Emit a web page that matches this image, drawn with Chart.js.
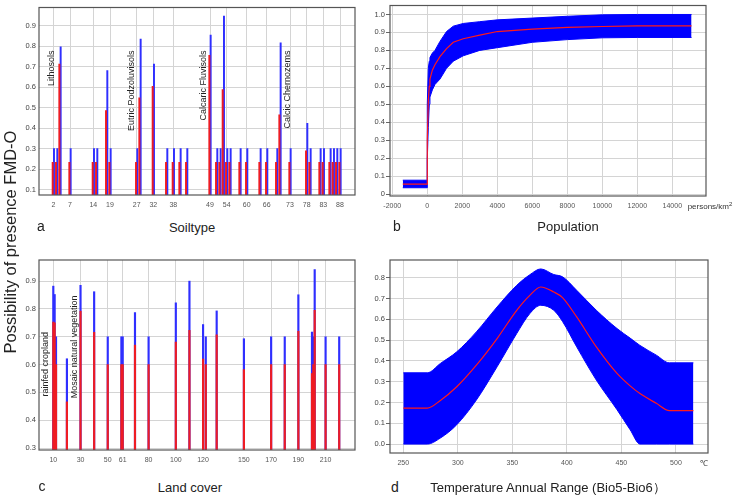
<!DOCTYPE html>
<html>
<head>
<meta charset="utf-8">
<script src="https://cdn.jsdelivr.net/npm/chart.js@4.4.0/dist/chart.umd.min.js"></script>
<style>
  body { margin: 0; background: #fff; width: 736px; height: 498px; position: relative; overflow: hidden;
         font-family: "Liberation Sans", Arial, sans-serif; }
  canvas { position: absolute; }
  .t { position: absolute; color: #222; white-space: nowrap; transform: translate(-50%, -50%); }
</style>
</head>
<body>
<canvas id="soilChart" width="372" height="216" style="left:0;top:0"></canvas>
<canvas id="popChart" width="376" height="216" style="left:360px;top:0"></canvas>
<canvas id="landChart" width="372" height="216" style="left:0;top:250px"></canvas>
<canvas id="tempChart" width="376" height="216" style="left:360px;top:250px"></canvas>

<div class="t" style="left:10px;top:242px;font-size:16.5px;transform:translate(-50%,-50%) rotate(-90deg)">Possibility of presence FMD-O</div>
<div class="t" style="left:41px;top:226px;font-size:14px">a</div>
<div class="t" style="left:192px;top:227px;font-size:13px">Soiltype</div>
<div class="t" style="left:397px;top:226px;font-size:14px">b</div>
<div class="t" style="left:568px;top:226px;font-size:13px">Population</div>
<div class="t" style="left:42px;top:486px;font-size:14px">c</div>
<div class="t" style="left:190px;top:487px;font-size:13px">Land cover</div>
<div class="t" style="left:395px;top:487px;font-size:14px">d</div>
<div class="t" style="left:548px;top:488px;font-size:13px">Temperature Annual Range (Bio5-Bio6）</div>
<div class="t" style="left:710px;top:206px;font-size:8px;color:#333">persons/km<sup style="font-size:6px">2</sup></div>
<div class="t" style="left:704px;top:462px;font-size:8px;color:#333">℃</div>

<script>
// ---- a: soil type ----
const soilCodes = [2, 3, 4, 7, 14, 15, 18, 19, 27, 28, 32, 36, 38, 40, 42, 49, 51, 52, 53, 54, 55, 58, 60, 64, 66, 69, 70, 73, 78, 79, 82, 83, 85, 86, 87, 88];
const soilMean  = [.233, .233, .713, .233, .233, .233, .486, .233, .233, .548, .604, .233, .233, .233, .233, .756, .233, .233, .588, .233, .233, .233, .233, .233, .233, .233, .465, .233, .289, .233, .233, .233, .233, .233, .233, .233];
const soilUpper = [.30, .30, .798, .30, .30, .30, .681, .30, .30, .836, .713, .30, .30, .30, .30, .855, .30, .30, .948, .30, .30, .30, .30, .30, .30, .30, .817, .30, .423, .30, .30, .30, .30, .30, .30, .30];
const soilTicks = [2, 7, 14, 19, 27, 32, 38, 49, 54, 60, 66, 73, 78, 83, 88];
const soilYTicks = [0.1, 0.2, 0.3, 0.4, 0.5, 0.6, 0.7, 0.8, 0.9];

// ---- b: population ----
const popX     = [-1400, 0, 0, 57, 114, 152, 290, 438, 724, 1100, 1486, 2057, 3000, 4000, 6000, 8000, 10000, 12000, 15100];
const popMean  = [.055, .055, .30, .52, .60, .64, .69, .72, .765, .81, .845, .865, .885, .905, .918, .928, .933, .937, .937];
const popUpper = [.077, .077, .50, .70, .74, .76, .785, .80, .85, .905, .935, .95, .96, .97, .98, .99, .998, 1.0, 1.0];
const popLower = [.035, .035, .19, .37, .50, .54, .58, .61, .64, .70, .74, .77, .80, .815, .845, .86, .87, .872, .872];
const popTicks = [-2000, 0, 2000, 4000, 6000, 8000, 10000, 12000, 14000];
const popYTicks = [0, 0.1, 0.2, 0.3, 0.4, 0.5, 0.6, 0.7, 0.8, 0.9, 1.0];

// ---- c: land cover ----
const landCodes = [10, 11, 12, 20, 30, 40, 50, 60, 61, 70, 80, 100, 110, 120, 122, 130, 150, 170, 180, 190, 200, 201, 202, 210, 220];
const landMean  = [.753, .75, .60, .466, .792, .716, .60, .60, .60, .67, .60, .681, .723, .62, .60, .707, .582, .60, .60, .72, .568, .60, .795, .60, .60];
const landUpper = [.882, .852, .70, .621, .885, .862, .70, .70, .70, .787, .70, .822, .90, .744, .70, .793, .693, .70, .70, .851, .717, .70, .942, .70, .70];
const landTicks = [10, 30, 50, 61, 80, 100, 120, 150, 170, 190, 210];
const landYTicks = [0.3, 0.4, 0.5, 0.6, 0.7, 0.8, 0.9];

// ---- d: temperature annual range ----
const tempX     = [250, 272, 284, 299, 317, 336, 354, 366, 376, 388, 396, 409, 427, 446, 458, 467, 482, 494, 516];
const tempMean  = [.173, .173, .21, .276, .38, .508, .644, .716, .756, .732, .705, .612, .468, .34, .28, .243, .196, .161, .161];
const tempUpper = [.343, .343, .388, .444, .54, .66, .764, .815, .843, .816, .805, .74, .644, .556, .51, .475, .428, .391, .391];
const tempLower = [0, 0, .029, .093, .212, .372, .532, .628, .668, .644, .59, .468, .308, .165, .069, 0, 0, 0, 0];
const tempTicks = [250, 300, 350, 400, 450, 500];
const tempYTicks = [0, 0.1, 0.2, 0.3, 0.4, 0.5, 0.6, 0.7, 0.8];

Chart.defaults.font.family = '"Liberation Sans", Arial, sans-serif';
Chart.defaults.animation = false;

const BLUE = '#2f2fff', RED = '#ee1c24';

// frame round the plot area
const framePlugin = {
    id: 'frame',
    afterDraw(chart) {
        const a = chart.chartArea, c = chart.ctx;
        c.save();
        c.strokeStyle = '#555';
        c.lineWidth = 1.2;
        c.strokeRect(a.left, a.top, a.right - a.left, a.bottom - a.top);
        c.restore();
    }
};

// vertical text labels inside the plot
const notePlugin = {
    id: 'notes',
    afterDatasetsDraw(chart, args, opts) {
        const items = opts.items || [];
        const c = chart.ctx;
        c.save();
        c.font = '9px "Liberation Sans", Arial';
        c.fillStyle = '#222';
        c.textAlign = 'right';
        c.textBaseline = 'middle';
        items.forEach(n => {
            const x = chart.scales.x.getPixelForValue(n.x);
            const y = chart.scales.y.getPixelForValue(n.y);
            c.save();
            c.translate(x, y);
            c.rotate(-Math.PI / 2);
            c.fillText(n.text, 0, 0);
            c.restore();
        });
        c.restore();
    }
};
Chart.register(framePlugin, notePlugin);

function scales(p) {
    return {
        x: {
            type: 'linear', min: p.xMin, max: p.xMax, offset: false,
            afterBuildTicks: s => { s.ticks = p.xTicks.map(v => ({ value: v })); },
            afterFit: s => { s.height = p.xh; },
            grid: { color: '#d4d4d4', drawTicks: false, offset: false },
            border: { display: false },
            ticks: { padding: 6, autoSkip: false, maxRotation: 0, color: '#555', font: { size: 7 },
                     callback: v => String(v) }
        },
        y: {
            type: 'linear', min: p.yMin, max: p.yMax,
            afterBuildTicks: s => { s.ticks = p.yTicks.map(v => ({ value: v })); },
            afterFit: s => { s.width = p.yw; },
            grid: { color: '#d4d4d4', drawTicks: p.tick > 0, tickLength: p.tick, tickColor: '#666' },
            border: { display: false },
            ticks: { padding: p.tick > 0 ? 1 : 3, color: '#444', font: { size: 7.5 },
                     callback: p.fmt }
        }
    };
}

const base = {
    responsive: false,
    events: [],
    plugins: { legend: { display: false }, tooltip: { enabled: false } }
};

/* -------- a -------- */
new Chart(document.getElementById('soilChart'), {
    type: 'bar',
    data: {
        datasets: [
            { data: soilCodes.map((c, i) => ({ x: c, y: soilMean[i] })), backgroundColor: RED, barThickness: 1.3 },
            { data: soilCodes.map((c, i) => ({ x: c, y: soilUpper[i] })), backgroundColor: BLUE, barThickness: 1.3 }
        ]
    },
    options: {
        ...base,
        layout: { padding: { top: 4, right: 17, left: 0, bottom: 0 } },
        scales: scales({ xMin: -2.3, xMax: 92.5, xTicks: soilTicks, yMin: 0.073, yMax: 0.99, yTicks: soilYTicks,
                         yw: 39, xh: 21, tick: 0, fmt: v => v.toFixed(1) }),
        plugins: {
            ...base.plugins,
            notes: { items: [
                { text: 'Lithosols', x: 1.5, y: 0.78 },
                { text: 'Eutric Podzoluvisols', x: 25.5, y: 0.78 },
                { text: 'Calcaric Fluvisols', x: 47.2, y: 0.78 },
                { text: 'Calcic Chernozems', x: 72.3, y: 0.78 }
            ] }
        }
    }
});

/* -------- b -------- */
new Chart(document.getElementById('popChart'), {
    type: 'line',
    data: {
        datasets: [
            { data: popX.map((x, i) => ({ x, y: popMean[i] })), borderColor: '#ff1a1a', borderWidth: 1.2, pointRadius: 0, fill: false },
            { data: popX.map((x, i) => ({ x, y: popUpper[i] })), borderColor: '#0000ff', backgroundColor: '#0000ff', borderWidth: 1, pointRadius: 0, fill: '+1' },
            { data: popX.map((x, i) => ({ x, y: popLower[i] })), borderColor: '#0000ff', borderWidth: 1, pointRadius: 0, fill: false }
        ]
    },
    options: {
        ...base,
        layout: { padding: { top: 4, right: 30, left: 0, bottom: 0 } },
        scales: scales({ xMin: -2131, xMax: 15926, xTicks: popTicks, yMin: -0.011, yMax: 1.05, yTicks: popYTicks,
                         yw: 30, xh: 20, tick: 4, fmt: v => v === 0 ? '0' : v.toFixed(1) })
    }
});

/* -------- c -------- */
new Chart(document.getElementById('landChart'), {
    type: 'bar',
    data: {
        datasets: [
            { data: landCodes.map((c, i) => ({ x: c, y: landMean[i] })), backgroundColor: RED, barThickness: 1.5, grouped: false },
            { data: landCodes.map((c, i) => ({ x: c, y: landUpper[i] })), backgroundColor: BLUE, barThickness: 1.5, grouped: false }
        ]
    },
    options: {
        ...base,
        layout: { padding: { top: 10, right: 17, left: 0, bottom: 0 } },
        scales: scales({ xMin: -0.5, xMax: 231.6, xTicks: landTicks, yMin: 0.293, yMax: 0.976, yTicks: landYTicks,
                         yw: 39, xh: 16, tick: 0, fmt: v => v.toFixed(1) }),
        plugins: {
            ...base.plugins,
            notes: { items: [
                { text: 'rainfed cropland', x: 4.6, y: 0.717 },
                { text: 'Mosaic natural vegetation', x: 25.9, y: 0.848 }
            ] }
        }
    }
});

/* -------- d -------- */
new Chart(document.getElementById('tempChart'), {
    type: 'line',
    data: {
        datasets: [
            { data: tempX.map((x, i) => ({ x, y: tempMean[i] })), borderColor: '#ff1a1a', borderWidth: 1.2, pointRadius: 0, fill: false, cubicInterpolationMode: 'monotone' },
            { data: tempX.map((x, i) => ({ x, y: tempUpper[i] })), borderColor: '#0000ff', backgroundColor: '#0000ff', borderWidth: 1, pointRadius: 0, fill: '+1', cubicInterpolationMode: 'monotone' },
            { data: tempX.map((x, i) => ({ x, y: tempLower[i] })), borderColor: '#0000ff', borderWidth: 1, pointRadius: 0, fill: false, cubicInterpolationMode: 'monotone' }
        ]
    },
    options: {
        ...base,
        layout: { padding: { top: 10, right: 28, left: 0, bottom: 0 } },
        scales: scales({ xMin: 237.8, xMax: 529.4, xTicks: tempTicks, yMin: -0.043, yMax: 0.886, yTicks: tempYTicks,
                         yw: 30, xh: 13, tick: 4, fmt: v => v.toFixed(1) })
    }
});
</script>
</body>
</html>
